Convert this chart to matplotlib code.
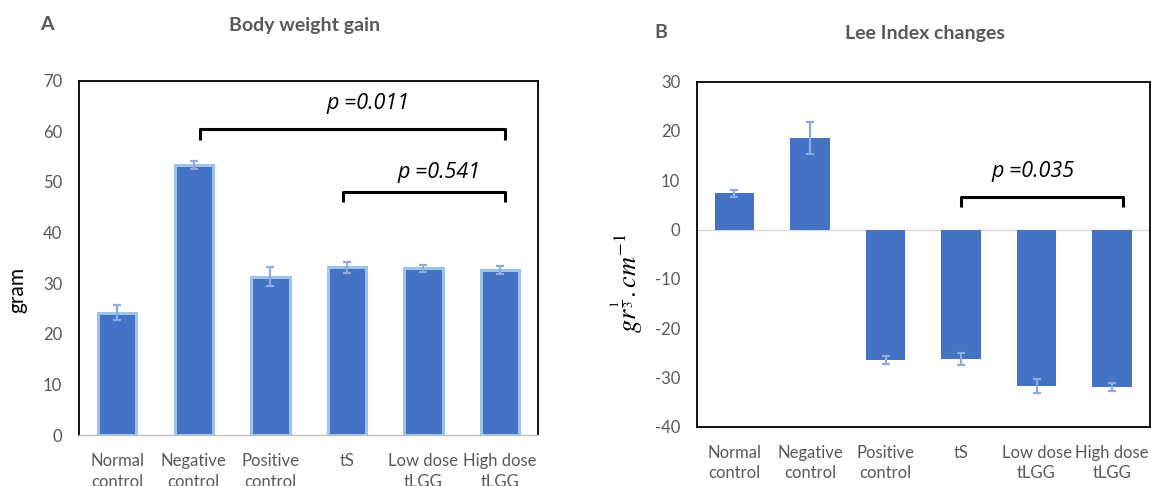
import matplotlib
matplotlib.use("Agg")
import matplotlib.pyplot as plt
import numpy as np

plt.rcParams['font.family'] = ['Lato', 'DejaVu Sans']
plt.rcParams['mathtext.fontset'] = 'stix'
plt.rcParams['axes.unicode_minus'] = False

categories = ["Normal\ncontrol", "Negative\ncontrol", "Positive\ncontrol", "tS",
              "Low dose\ntLGG", "High dose\ntLGG"]
weight_gain = [24.2, 53.4, 31.3, 33.1, 32.9, 32.6]
weight_err = [1.5, 0.8, 1.8, 1.1, 0.7, 0.8]
lee_change = [7.4, 18.6, -26.4, -26.2, -31.8, -31.9]
lee_err = [0.7, 3.2, 0.8, 1.2, 1.4, 0.8]
a_ticks = [0, 10, 20, 30, 40, 50, 60, 70]
b_ticks = [-40, -30, -20, -10, 0, 10, 20, 30]

BAR = "#4472C4"
EDGE = "#9DC3E6"
ERR = "#8FAADC"
GRAY = "#595959"

fig = plt.figure(figsize=(11.51, 4.86), dpi=100)
axA = fig.add_axes([0.0686, 0.1049, 0.3991, 0.7291])
axB = fig.add_axes([0.6053, 0.122, 0.3937, 0.710])

x = np.arange(len(categories))

# Panel A
axA.bar(x, weight_gain, width=0.5, color=BAR, edgecolor=EDGE, linewidth=2.2, zorder=2)
axA.errorbar(x, weight_gain, yerr=weight_err, fmt='none', ecolor=ERR, elinewidth=1.6,
             capsize=3, capthick=1.6, zorder=3)
axA.set_xlim(-0.5, len(categories) - 0.5)
axA.set_ylim(0, 70)
axA.set_yticks(a_ticks)
axA.set_xticks(x)
axA.set_xticklabels(categories, linespacing=1.35)
for s in ['left', 'top', 'right']:
    axA.spines[s].set_color('black')
    axA.spines[s].set_linewidth(1.3)
axA.spines['bottom'].set_color('#BFBFBF')
axA.spines['bottom'].set_linewidth(1.0)
axA.tick_params(axis='both', length=0, labelsize=12, labelcolor=GRAY)
axA.tick_params(axis='y', pad=12)
axA.tick_params(axis='x', pad=13)

def bracket(ax, x0, x1, y, drop, label, tx, ty):
    ax.plot([x0, x0, x1, x1], [y - drop, y, y, y - drop], color='black', lw=2.2,
            solid_capstyle='butt', solid_joinstyle='round', zorder=4, clip_on=False)
    ax.text(tx, ty, label, ha='center', va='center', fontsize=15.5, style='italic',
            color='black', family=['Open Sans', 'DejaVu Sans'])

bracket(axA, 1.08, 5.07, 60.5, 2.3, "p =0.011", 3.28, 65.4)
bracket(axA, 2.95, 5.07, 48.0, 2.0, "p =0.541", 4.2, 51.9)

# Panel B
axB.bar(x, lee_change, width=0.52, color=BAR, zorder=2)
axB.errorbar(x, lee_change, yerr=lee_err, fmt='none', ecolor=ERR, elinewidth=1.6,
             capsize=3, capthick=1.6, zorder=3)
axB.axhline(0, color='#D9D9D9', lw=1.0, zorder=1)
axB.set_xlim(-0.5, len(categories) - 0.5)
axB.set_ylim(-40, 30)
axB.set_yticks(b_ticks)
axB.set_xticks(x)
axB.set_xticklabels(categories, linespacing=1.35)
for s in axB.spines.values():
    s.set_color('black')
    s.set_linewidth(1.3)
axB.tick_params(axis='both', length=0, labelsize=12, labelcolor=GRAY)
axB.tick_params(axis='y', pad=12)
axB.tick_params(axis='x', pad=13)

bracket(axB, 3.0, 5.15, 6.6, 2.0, "p =0.035", 3.95, 11.7)

# Titles and labels
fig.text(47 / 1151, 1 - 25 / 486, "A", ha='center', va='center', fontsize=14,
         fontweight='bold', color=GRAY)
fig.text(305 / 1151, 1 - 25 / 486, "Body weight gain", ha='center', va='center',
         fontsize=14, fontweight='bold', color=GRAY)
fig.text(661 / 1151, 1 - 33 / 486, "B", ha='center', va='center', fontsize=14,
         fontweight='bold', color=GRAY)
fig.text(925 / 1151, 1 - 33 / 486, "Lee Index changes", ha='center', va='center',
         fontsize=14, fontweight='bold', color=GRAY)
fig.text(17 / 1151, 1 - 290 / 486, "gram", ha='center', va='center', rotation=90,
         fontsize=15, color='black')
fig.text(627 / 1151, 1 - 283 / 486, r"$gr^{\frac{1}{3}}.cm^{-1}$", ha='center',
         va='center', rotation=90, fontsize=19, color='black')

fig.savefig("out.png", dpi=100, facecolor='white')
